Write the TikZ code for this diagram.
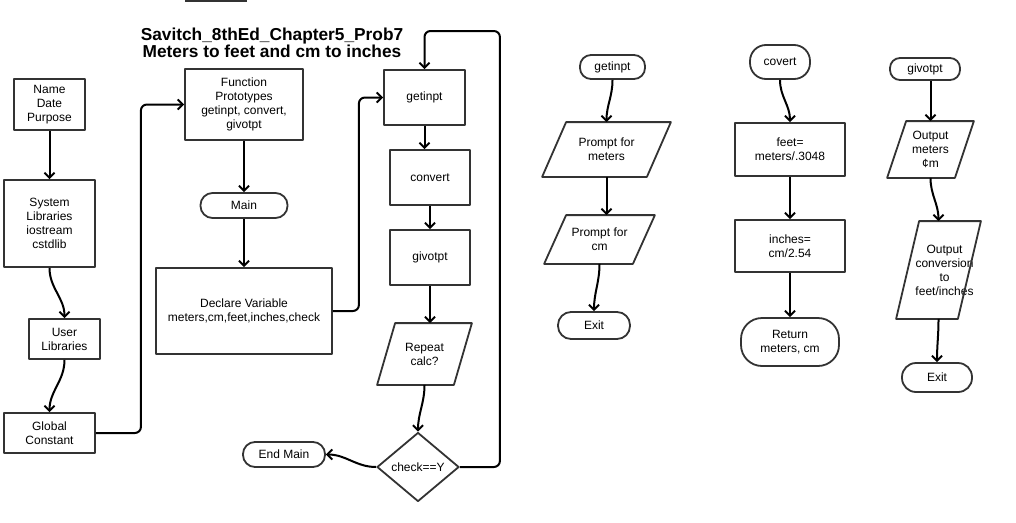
\documentclass[tikz,border=0pt]{standalone}
\usepackage{fontspec}
\setmainfont{Liberation Sans}
\usetikzlibrary{shapes.geometric,arrows.meta}
\definecolor{bordc}{HTML}{333333}
% parallelogram round a named io node: node, slant
\newcommand{\ioframe}[2]{\draw[bordc,line width=1.8pt] ([xshift=#2]#1.north west) -- (#1.north east) -- ([xshift=-#2]#1.south east) -- (#1.south west) -- cycle;}
\begin{document}
\begin{tikzpicture}[line join=round,>={Straight Barb[length=5pt,width=10pt]},x=1pt,y=-1pt]
	\tikzset{
		base/.style={draw=bordc,line width=1.8pt,align=center,inner sep=1pt,font=\fontsize{12}{14}\selectfont},
		wh/.style 2 args={minimum width=#1,minimum height=#2},
		box/.style={base,rectangle},
		term/.style={base,rectangle,rounded corners=#1},
		io/.style={base,draw=none,rectangle,inner sep=0pt},
		dec/.style={base,diamond,inner sep=0pt},
		every label/.style={font=\fontsize{12}{14}\selectfont,align=center,inner sep=0pt},
		conn/.style={->,line width=2pt,black}
	}
	\useasboundingbox (0,0) rectangle (1016,522);
	\draw[bordc,line width=1.8pt] (185,1) -- (247,1);
	\node[font=\fontsize{17.3}{16.5}\bfseries\selectfont,align=center,inner sep=0pt] (title) at (272,43) {Savitch\_8thEd\_Chapter5\_Prob7\\Meters to feet and cm to inches};
	% main program
	\node[box,wh={71}{51}] (name) at (49.5,104.5) {Name\\Date\\Purpose};
	\node[box,wh={91}{87}] (sys) at (49.5,223.5) {System\\Libraries\\iostream\\cstdlib};
	\node[box,wh={71}{40}] (usr) at (64.5,339) {User\\Libraries};
	\node[box,wh={91}{40}] (glob) at (49.5,433) {Global\\Constant};
	\node[box,wh={118}{71}] (proto) at (244,104.5) {Function\\Prototypes\\getinpt, convert,\\givotpt};
	\node[term=12,wh={87}{25}] (main) at (244,205.5) {Main};
	\node[box,wh={176}{86}] (decl) at (244,311) {Declare Variable\\meters,cm,feet,inches,check};
	\node[box,wh={81}{55}] (get) at (424.5,97.5) {getinpt};
	\node[box,wh={80}{55}] (conv) at (430,177.5) {convert};
	\node[box,wh={80}{55}] (givo) at (430,257.5) {givotpt};
	\node[io,wh={93}{60}] (rep) at (424.5,354) {Repeat\\calc?};
	\ioframe{rep}{18}
	\node[dec,wh={82}{69},label={center:check==Y}] (chk) at (418,467) {};
	\node[term=12,wh={82}{25}] (endm) at (284,454.5) {End Main};
	\draw[conn] (name) -- (sys);
	\draw[conn] (sys.south) to[out=-90,in=90] (usr.north);
	\draw[conn] (usr.south) to[out=-90,in=90] (glob.north);
	\draw[conn,rounded corners=6pt] (glob.east) -- ++(45,0) |- (proto.west);
	\draw[conn] (proto) -- (main);
	\draw[conn] (main) -- (decl);
	\draw[conn,rounded corners=6pt] (decl.east) -- ++(26,0) |- (get.west);
	\draw[conn] (get.south) -- (get.south |- conv.north);
	\draw[conn] (conv) -- (givo);
	\draw[conn] (givo.south) -- (givo.south |- rep.north);
	\draw[conn] (rep.south) to[out=-90,in=90] (chk.north);
	\draw[conn] (chk.west) to[out=180,in=0] (endm.east);
	\draw[conn,rounded corners=6pt] (chk.east) -- ++(40,0) -- ++(0,-436) -| (get.north);
	% getinpt
	\node[term=11,wh={65}{24}] (fget) at (612.5,67) {getinpt};
	\node[io,wh={127}{53}] (pm) at (606.5,149.5) {Prompt for\\meters};
	\ioframe{pm}{24}
	\node[io,wh={109}{47}] (pc) at (599.5,239.5) {Prompt for\\cm};
	\ioframe{pc}{22}
	\node[term=13,wh={72}{27}] (exa) at (594,325.5) {Exit};
	\draw[conn] (fget.south) to[out=-90,in=90] (pm.north);
	\draw[conn] (pm.south) -- (pm.south |- pc.north);
	\draw[conn] (pc.south) to[out=-90,in=90] (exa.north);
	% covert
	\node[term=16,wh={60}{34}] (fconv) at (780,62) {covert};
	\node[box,wh={110}{53}] (feet) at (790,149.5) {feet=\\meters/.3048};
	\node[box,wh={110}{52}] (inch) at (790,246) {inches=\\cm/2.54};
	\node[term=21,wh={98}{48}] (ret) at (790,342) {Return\\meters, cm};
	\draw[conn] (fconv.south) to[out=-90,in=90] (feet.north);
	\draw[conn] (feet) -- (inch);
	\draw[conn] (inch) -- (ret);
	% givotpt
	\node[term=10,wh={70}{22}] (fgiv) at (925,69) {givotpt};
	\node[io,wh={85}{55}] (outm) at (930.5,149.5) {Output\\meters\\¢m};
	\ioframe{outm}{19}
	\node[io,wh={83}{96}] (outc) at (938.5,270) {\hspace*{12pt}Output\\\hspace*{12pt}conversion\\\hspace*{12pt}to\\\hspace*{12pt}feet/inches};
	\ioframe{outc}{23}
	\node[term=14,wh={70}{29}] (exb) at (937,377.5) {Exit};
	\draw[conn] (fgiv.south -| outm.north) -- (outm.north);
	\draw[conn] (outm.south) to[out=-90,in=90] (outc.north);
	\draw[conn] (outc.south) to[out=-90,in=90] (exb.north);
\end{tikzpicture}
\end{document}
